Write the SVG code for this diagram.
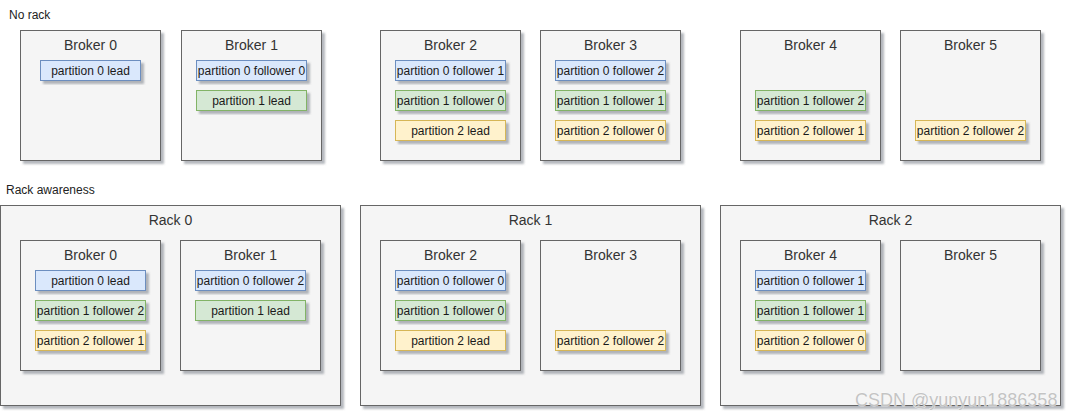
<svg xmlns="http://www.w3.org/2000/svg" width="1074" height="420" viewBox="0 0 1074 420">
<defs>
<filter id="sh" x="-10%" y="-10%" width="130%" height="130%">
<feDropShadow dx="3" dy="3" stdDeviation="0.8" flood-color="#5a6070" flood-opacity="0.45"/>
</filter>
</defs>
<style>
text{font-family:"Liberation Sans",Arial,sans-serif;}
.box{fill:#f5f5f5;stroke:#666666;stroke-width:1;filter:url(#sh);}
.p0{fill:#dae8fc;stroke:#6c8ebf;stroke-width:1;filter:url(#sh);}
.p1{fill:#d5e8d4;stroke:#82b366;stroke-width:1;filter:url(#sh);}
.p2{fill:#fff2cc;stroke:#d6b656;stroke-width:1;filter:url(#sh);}
.bt{font-size:14px;fill:#333333;text-anchor:middle;}
.pt{font-size:12px;fill:#1a1a1a;text-anchor:middle;}
.lbl{font-size:12px;fill:#222222;}
.wm{font-size:18px;fill:#c4c4c4;stroke:#ffffff;stroke-width:0.6;paint-order:stroke;}
</style>
<rect width="1074" height="420" fill="#ffffff"/>
<text class="lbl" x="9" y="19">No rack</text>
<text class="lbl" x="6" y="194">Rack awareness</text>

<!-- Top row: no rack -->
<g id="top-broker0">
<rect class="box" x="20.5" y="30.5" width="140" height="130"/>
<text class="bt" x="90.5" y="50">Broker 0</text>
<rect class="p0" x="40.5" y="60.5" width="100" height="20"/>
<text class="pt" x="90.5" y="75">partition 0 lead</text>
</g>
<g id="top-broker1">
<rect class="box" x="181.5" y="30.5" width="140" height="130"/>
<text class="bt" x="251.5" y="50">Broker 1</text>
<rect class="p0" x="196.5" y="60.5" width="110" height="20"/>
<text class="pt" x="251.5" y="75">partition 0 follower 0</text>
<rect class="p1" x="196.5" y="90.5" width="110" height="20"/>
<text class="pt" x="251.5" y="105">partition 1 lead</text>
</g>
<g id="top-broker2">
<rect class="box" x="380.5" y="30.5" width="140" height="130"/>
<text class="bt" x="450.5" y="50">Broker 2</text>
<rect class="p0" x="395.5" y="60.5" width="110" height="20"/>
<text class="pt" x="450.5" y="75">partition 0 follower 1</text>
<rect class="p1" x="395.5" y="90.5" width="110" height="20"/>
<text class="pt" x="450.5" y="105">partition 1 follower 0</text>
<rect class="p2" x="395.5" y="120.5" width="110" height="20"/>
<text class="pt" x="450.5" y="135">partition 2 lead</text>
</g>
<g id="top-broker3">
<rect class="box" x="540.5" y="30.5" width="140" height="130"/>
<text class="bt" x="610.5" y="50">Broker 3</text>
<rect class="p0" x="555.5" y="60.5" width="110" height="20"/>
<text class="pt" x="610.5" y="75">partition 0 follower 2</text>
<rect class="p1" x="555.5" y="90.5" width="110" height="20"/>
<text class="pt" x="610.5" y="105">partition 1 follower 1</text>
<rect class="p2" x="555.5" y="120.5" width="110" height="20"/>
<text class="pt" x="610.5" y="135">partition 2 follower 0</text>
</g>
<g id="top-broker4">
<rect class="box" x="740.5" y="30.5" width="140" height="130"/>
<text class="bt" x="810.5" y="50">Broker 4</text>
<rect class="p1" x="755.5" y="90.5" width="110" height="20"/>
<text class="pt" x="810.5" y="105">partition 1 follower 2</text>
<rect class="p2" x="755.5" y="120.5" width="110" height="20"/>
<text class="pt" x="810.5" y="135">partition 2 follower 1</text>
</g>
<g id="top-broker5">
<rect class="box" x="900.5" y="30.5" width="140" height="130"/>
<text class="bt" x="970.5" y="50">Broker 5</text>
<rect class="p2" x="915.5" y="120.5" width="110" height="20"/>
<text class="pt" x="970.5" y="135">partition 2 follower 2</text>
</g>

<!-- Bottom row: rack awareness -->
<g id="rack0">
<rect class="box" x="0.5" y="205.5" width="340" height="200"/>
<text class="bt" x="170.5" y="225">Rack 0</text>
</g>
<g id="rack1">
<rect class="box" x="360.5" y="205.5" width="340" height="200"/>
<text class="bt" x="530.5" y="225">Rack 1</text>
</g>
<g id="rack2">
<rect class="box" x="720.5" y="205.5" width="340" height="200"/>
<text class="bt" x="890.5" y="225">Rack 2</text>
</g>

<g id="rack-broker0">
<rect class="box" x="20.5" y="240.5" width="140" height="130"/>
<text class="bt" x="90.5" y="260">Broker 0</text>
<rect class="p0" x="35.5" y="270.5" width="110" height="20"/>
<text class="pt" x="90.5" y="285">partition 0 lead</text>
<rect class="p1" x="35.5" y="300.5" width="110" height="20"/>
<text class="pt" x="90.5" y="315">partition 1 follower 2</text>
<rect class="p2" x="35.5" y="330.5" width="110" height="20"/>
<text class="pt" x="90.5" y="345">partition 2 follower 1</text>
</g>
<g id="rack-broker1">
<rect class="box" x="180.5" y="240.5" width="140" height="130"/>
<text class="bt" x="250.5" y="260">Broker 1</text>
<rect class="p0" x="195.5" y="270.5" width="110" height="20"/>
<text class="pt" x="250.5" y="285">partition 0 follower 2</text>
<rect class="p1" x="195.5" y="300.5" width="110" height="20"/>
<text class="pt" x="250.5" y="315">partition 1 lead</text>
</g>
<g id="rack-broker2">
<rect class="box" x="380.5" y="240.5" width="140" height="130"/>
<text class="bt" x="450.5" y="260">Broker 2</text>
<rect class="p0" x="395.5" y="270.5" width="110" height="20"/>
<text class="pt" x="450.5" y="285">partition 0 follower 0</text>
<rect class="p1" x="395.5" y="300.5" width="110" height="20"/>
<text class="pt" x="450.5" y="315">partition 1 follower 0</text>
<rect class="p2" x="395.5" y="330.5" width="110" height="20"/>
<text class="pt" x="450.5" y="345">partition 2 lead</text>
</g>
<g id="rack-broker3">
<rect class="box" x="540.5" y="240.5" width="140" height="130"/>
<text class="bt" x="610.5" y="260">Broker 3</text>
<rect class="p2" x="555.5" y="330.5" width="110" height="20"/>
<text class="pt" x="610.5" y="345">partition 2 follower 2</text>
</g>
<g id="rack-broker4">
<rect class="box" x="740.5" y="240.5" width="140" height="130"/>
<text class="bt" x="810.5" y="260">Broker 4</text>
<rect class="p0" x="755.5" y="270.5" width="110" height="20"/>
<text class="pt" x="810.5" y="285">partition 0 follower 1</text>
<rect class="p1" x="755.5" y="300.5" width="110" height="20"/>
<text class="pt" x="810.5" y="315">partition 1 follower 1</text>
<rect class="p2" x="755.5" y="330.5" width="110" height="20"/>
<text class="pt" x="810.5" y="345">partition 2 follower 0</text>
</g>
<g id="rack-broker5">
<rect class="box" x="900.5" y="240.5" width="140" height="130"/>
<text class="bt" x="970.5" y="260">Broker 5</text>
</g>

<g id="connectors"></g>

<text class="wm" x="855" y="406">CSDN @yunyun1886358</text>
</svg>
